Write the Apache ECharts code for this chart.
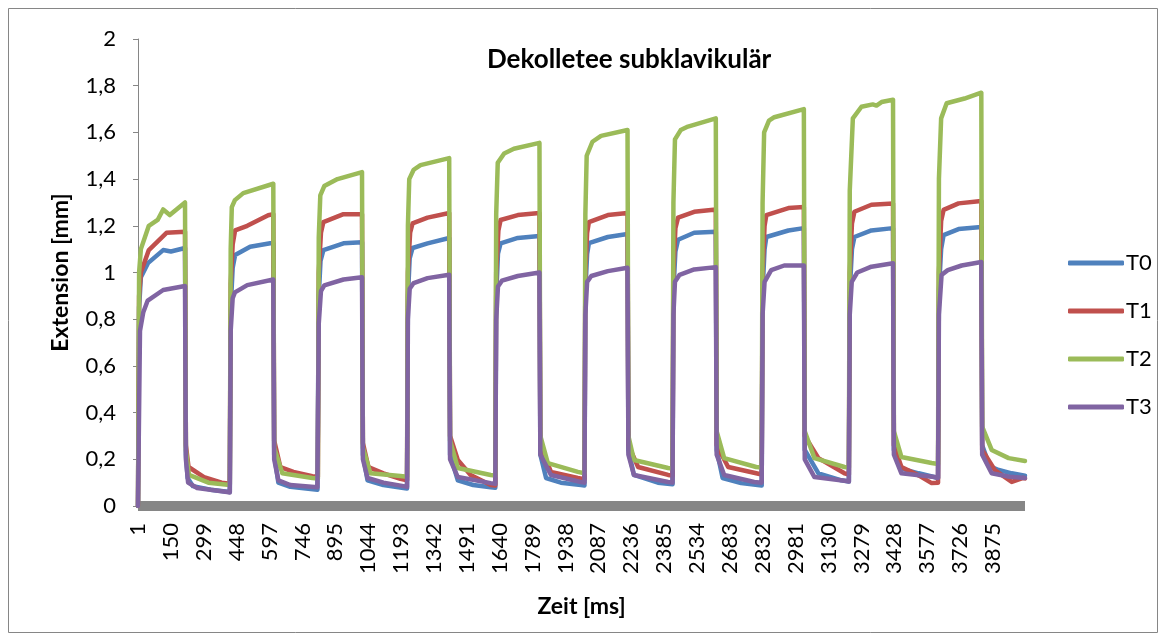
<!DOCTYPE html>
<html>
<head>
<meta charset="utf-8">
<script src="https://cdn.jsdelivr.net/npm/echarts@6/dist/echarts.min.js"></script>
<style>
  html, body { margin: 0; padding: 0; background: #fff; }
  #chart { width: 1166px; height: 643px; }
</style>
</head>
<body>
<div id="chart"></div>
<script>
// Zeit-Achse: Messpunkte 1 .. 4020 [ms]
var sampleCount = 4020;
var yTicks = [0, 0.2, 0.4, 0.6, 0.8, 1, 1.2, 1.4, 1.6, 1.8, 2];
var seriesNames = ['T0', 'T1', 'T2', 'T3'];

// [Messpunkt, Extension in mm]
var T0 = [
  [1,0],[6,0.85],[14,0.98],[46,1.04],[115,1.096],[150,1.09],[214,1.105],
  [218,0.22],[226,0.12],[250,0.085],[330,0.07],[417,0.06],
  [421,0.85],[430,1.02],[441,1.075],[509,1.11],[600,1.125],[614,1.125],
  [618,0.22],[637,0.1],[691,0.082],[814,0.07],
  [820,0.9],[828,1.05],[841,1.096],[932,1.125],[1016,1.13],
  [1020,0.22],[1041,0.11],[1113,0.09],[1204,0.077],[1220,0.075],
  [1224,0.9],[1232,1.06],[1245,1.105],[1313,1.125],[1411,1.148],
  [1415,0.22],[1450,0.11],[1520,0.09],[1599,0.08],[1620,0.078],
  [1624,0.9],[1632,1.08],[1644,1.125],[1722,1.148],[1820,1.156],
  [1824,0.22],[1850,0.12],[1917,0.1],[2008,0.09],[2024,0.088],
  [2028,0.92],[2036,1.08],[2044,1.126],[2130,1.152],[2219,1.165],
  [2223,0.24],[2248,0.133],[2357,0.1],[2423,0.093],
  [2427,0.92],[2436,1.09],[2448,1.14],[2521,1.17],[2619,1.175],
  [2623,0.24],[2650,0.12],[2734,0.098],[2827,0.088],
  [2831,0.92],[2840,1.1],[2848,1.152],[2948,1.18],[3018,1.19],
  [3022,0.24],[3084,0.14],[3188,0.11],[3222,0.105],
  [3226,0.92],[3236,1.1],[3247,1.152],[3324,1.18],[3422,1.19],
  [3426,0.24],[3460,0.16],[3538,0.14],[3626,0.12],
  [3630,0.92],[3640,1.1],[3651,1.16],[3719,1.186],[3822,1.195],
  [3826,0.26],[3860,0.17],[3901,0.154],[3960,0.14],[4020,0.13]
];
var T1 = [
  [1,0],[6,0.9],[14,1.0],[50,1.096],[130,1.17],[214,1.175],
  [218,0.26],[230,0.167],[300,0.124],[380,0.1],[417,0.095],
  [421,0.95],[430,1.12],[441,1.18],[496,1.2],[591,1.245],[614,1.25],
  [618,0.28],[646,0.167],[705,0.146],[791,0.128],[816,0.125],
  [820,1.0],[830,1.17],[841,1.216],[932,1.25],[1016,1.25],
  [1020,0.27],[1045,0.167],[1113,0.14],[1190,0.116],[1220,0.11],
  [1224,1.0],[1234,1.17],[1245,1.21],[1313,1.235],[1411,1.255],
  [1415,0.3],[1450,0.197],[1508,0.133],[1599,0.09],[1620,0.088],
  [1624,1.0],[1634,1.18],[1644,1.225],[1722,1.246],[1820,1.255],
  [1824,0.26],[1872,0.146],[1994,0.12],[2024,0.115],
  [2028,1.0],[2036,1.17],[2044,1.216],[2130,1.246],[2219,1.255],
  [2223,0.26],[2267,0.167],[2403,0.133],[2423,0.13],
  [2427,1.0],[2436,1.19],[2448,1.235],[2521,1.26],[2619,1.27],
  [2623,0.26],[2675,0.167],[2802,0.14],[2827,0.135],
  [2831,1.0],[2840,1.2],[2848,1.246],[2948,1.276],[3018,1.28],
  [3022,0.3],[3084,0.205],[3202,0.14],[3222,0.135],
  [3226,1.0],[3236,1.21],[3247,1.26],[3324,1.29],[3422,1.295],
  [3426,0.26],[3460,0.167],[3540,0.13],[3597,0.098],[3626,0.1],
  [3630,1.0],[3640,1.22],[3651,1.268],[3719,1.296],[3822,1.306],
  [3826,0.24],[3883,0.154],[3960,0.103],[4012,0.12],[4020,0.118]
];
var T2 = [
  [1,0],[6,1.0],[14,1.1],[50,1.2],[90,1.225],[115,1.27],[145,1.246],[214,1.30],
  [218,0.24],[232,0.133],[320,0.1],[417,0.09],
  [421,1.1],[426,1.28],[440,1.31],[478,1.34],[614,1.38],
  [618,0.25],[655,0.14],[791,0.12],[816,0.118],
  [820,1.15],[827,1.33],[845,1.37],[905,1.40],[1016,1.43],
  [1020,0.25],[1054,0.14],[1190,0.128],[1220,0.125],
  [1224,1.2],[1230,1.4],[1250,1.44],[1281,1.46],[1411,1.49],
  [1415,0.28],[1450,0.163],[1599,0.133],[1620,0.13],
  [1624,1.25],[1631,1.47],[1660,1.51],[1704,1.53],[1820,1.555],
  [1824,0.3],[1858,0.184],[1994,0.146],[2024,0.14],
  [2028,1.25],[2034,1.5],[2060,1.56],[2099,1.585],[2219,1.61],
  [2223,0.3],[2248,0.197],[2403,0.163],[2423,0.16],
  [2427,1.3],[2434,1.57],[2460,1.61],[2493,1.625],[2619,1.66],
  [2623,0.32],[2657,0.205],[2802,0.167],[2827,0.165],
  [2831,1.3],[2838,1.6],[2860,1.65],[2884,1.665],[3018,1.70],
  [3022,0.32],[3066,0.205],[3202,0.167],[3222,0.165],
  [3226,1.35],[3240,1.66],[3279,1.71],[3330,1.72],[3347,1.715],[3370,1.73],[3422,1.74],
  [3426,0.32],[3460,0.21],[3597,0.184],[3626,0.18],
  [3630,1.4],[3640,1.66],[3665,1.725],[3746,1.745],[3822,1.77],
  [3826,0.34],[3869,0.24],[3946,0.205],[4020,0.193]
];
var T3 = [
  [1,0],[10,0.75],[25,0.83],[45,0.88],[115,0.925],[214,0.942],
  [218,0.2],[228,0.1],[269,0.077],[405,0.06],[417,0.058],
  [421,0.75],[430,0.89],[440,0.915],[496,0.946],[614,0.97],
  [618,0.2],[637,0.11],[691,0.09],[814,0.08],
  [820,0.78],[830,0.92],[845,0.945],[932,0.97],[1016,0.98],
  [1020,0.2],[1041,0.12],[1113,0.1],[1204,0.085],[1220,0.082],
  [1224,0.8],[1232,0.93],[1250,0.955],[1313,0.976],[1411,0.99],
  [1415,0.2],[1450,0.124],[1599,0.098],[1620,0.095],
  [1624,0.8],[1632,0.94],[1650,0.965],[1722,0.985],[1820,1.0],
  [1824,0.22],[1872,0.133],[2008,0.103],[2024,0.1],
  [2028,0.82],[2036,0.96],[2055,0.985],[2130,1.006],[2219,1.02],
  [2223,0.22],[2248,0.133],[2403,0.103],[2423,0.1],
  [2427,0.82],[2434,0.96],[2455,0.99],[2521,1.013],[2619,1.023],
  [2623,0.22],[2657,0.133],[2793,0.103],[2827,0.1],
  [2831,0.82],[2840,0.96],[2870,1.01],[2929,1.03],[3018,1.03],
  [3022,0.2],[3066,0.124],[3211,0.107],[3222,0.105],
  [3226,0.82],[3235,0.96],[3260,1.0],[3324,1.025],[3422,1.04],
  [3426,0.22],[3460,0.14],[3610,0.124],[3626,0.12],
  [3630,0.82],[3642,0.99],[3670,1.01],[3733,1.03],[3822,1.045],
  [3826,0.22],[3869,0.14],[3950,0.125],[4020,0.12]
];

var colors = ['#4F81BD', '#C0504D', '#9BBB59', '#8064A2'];
var font = 'Lato, "Open Sans", sans-serif';

// Kategorien = Messpunktnummern
var categories = [];
for (var i = 1; i <= sampleCount; i++) {
    categories.push(String(i));
}

function toIndex(points) {
    return points.map(function (p) { return [p[0] - 1, p[1]]; });
}

var chart = echarts.init(document.getElementById('chart'), null, { renderer: 'canvas' });

var option = {
    animation: false,
    color: colors,
    textStyle: { fontFamily: font, color: '#000' },
    title: {
        text: 'Dekolletee subklavikulär',
        left: 482,
        top: 42,
        textStyle: { fontFamily: font, fontSize: 26, fontWeight: 'bold', color: '#000' }
    },
    legend: {
        orient: 'vertical',
        left: 1063,
        top: 247,
        itemWidth: 56,
        itemHeight: 5,
        itemGap: 26,
        icon: 'roundRect',
        data: seriesNames,
        textStyle: { fontFamily: font, fontSize: 22, color: '#000', padding: [0, 0, 0, -3] }
    },
    grid: { left: 138, right: 141, top: 39, bottom: 137 },
    xAxis: {
        type: 'category',
        data: categories,
        boundaryGap: false,
        offset: 5,
        name: 'Zeit [ms]',
        nameLocation: 'middle',
        nameGap: 84,
        nameTextStyle: { fontFamily: font, fontSize: 23, fontWeight: 'bold', color: '#000' },
        axisLine: { lineStyle: { color: '#868686', width: 10, cap: 'butt' } },
        axisTick: { show: false },
        axisLabel: {
            interval: 148,
            rotate: 90,
            margin: 12,
            fontFamily: font,
            fontSize: 22,
            color: '#000'
        },
        splitLine: { show: false }
    },
    yAxis: {
        type: 'value',
        min: yTicks[0],
        max: yTicks[yTicks.length - 1],
        interval: 0.2,
        name: 'Extension [mm]',
        nameLocation: 'middle',
        nameRotate: 90,
        nameGap: 66,
        nameTextStyle: { fontFamily: font, fontSize: 23, fontWeight: 'bold', color: '#000' },
        axisLine: { show: true, lineStyle: { color: '#868686', width: 1 } },
        axisTick: { show: true, length: 5, lineStyle: { color: '#868686' } },
        axisLabel: {
            margin: 22,
            fontFamily: font,
            fontSize: 22,
            color: '#000',
            formatter: function (v) { return String(Math.round(v * 10) / 10).replace('.', ','); }
        },
        splitLine: { show: false }
    },
    graphic: [{
        type: 'rect',
        shape: { x: 8.5, y: 8.5, width: 1149, height: 624 },
        style: { fill: 'none', stroke: '#868686', lineWidth: 1 },
        silent: true
    }],
    series: [T0, T1, T2, T3].map(function (pts, k) {
        return {
            name: seriesNames[k],
            type: 'line',
            data: toIndex(pts),
            showSymbol: false,
            symbol: 'none',
            lineStyle: { width: 4.5, color: colors[k], cap: 'round', join: 'round' },
            itemStyle: { color: colors[k] }
        };
    })
};

chart.setOption(option);
</script>
</body>
</html>
